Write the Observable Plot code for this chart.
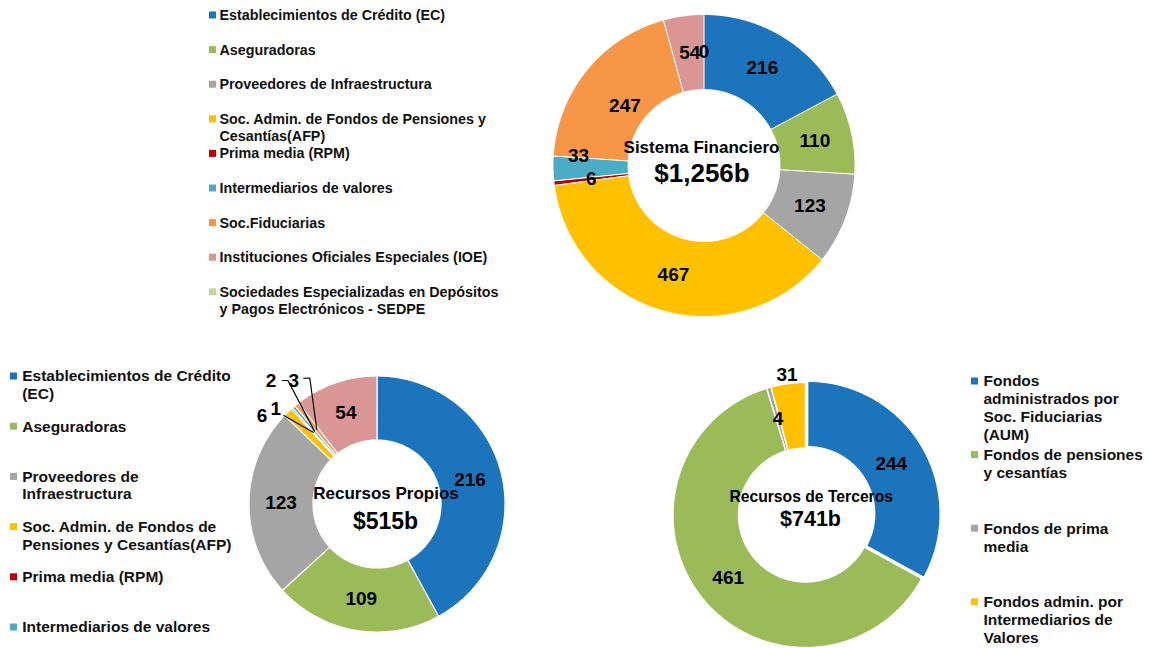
<!DOCTYPE html>
<html>
<head>
<meta charset="utf-8">
<script src="https://cdn.jsdelivr.net/npm/d3@7"></script>
<script src="https://cdn.jsdelivr.net/npm/@observablehq/plot@0.6"></script>
<style>
  html, body { margin: 0; padding: 0; background: #fff; }
  #chart svg { display: block; }
</style>
</head>
<body>
<div id="chart"></div>
<script>
// ---------------- DATA ----------------
// Sistema Financiero
const sfCategories = [
  "Establecimientos de Crédito (EC)",
  "Aseguradoras",
  "Proveedores de Infraestructura",
  "Soc. Admin. de Fondos de Pensiones y Cesantías(AFP)",
  "Prima media (RPM)",
  "Intermediarios de valores",
  "Soc.Fiduciarias",
  "Instituciones Oficiales Especiales (IOE)",
  "Sociedades Especializadas en Depósitos y Pagos Electrónicos - SEDPE"
];
const sfValues = [216, 110, 123, 467, 6, 33, 247, 54, 0];
const sfLegendLines = [
  ["Establecimientos de Crédito (EC)"],
  ["Aseguradoras"],
  ["Proveedores de Infraestructura"],
  ["Soc. Admin. de Fondos de Pensiones y", "Cesantías(AFP)"],
  ["Prima media (RPM)"],
  ["Intermediarios de valores"],
  ["Soc.Fiduciarias"],
  ["Instituciones Oficiales Especiales (IOE)"],
  ["Sociedades Especializadas en Depósitos", "y Pagos Electrónicos - SEDPE"]
];
const sfTitle = "Sistema Financiero";
const sfTotal = "$1,256b";

// Recursos Propios
const rpCategories = [
  "Establecimientos de Crédito (EC)",
  "Aseguradoras",
  "Proveedores de Infraestructura",
  "Soc. Admin. de Fondos de Pensiones y Cesantías(AFP)",
  "Prima media (RPM)",
  "Intermediarios de valores",
  "Soc.Fiduciarias",
  "Instituciones Oficiales Especiales (IOE)"
];
const rpValues = [216, 109, 123, 6, 1, 2, 3, 54];
const rpLegendLines = [
  ["Establecimientos de Crédito", "(EC)"],
  ["Aseguradoras"],
  ["Proveedores de", "Infraestructura"],
  ["Soc. Admin. de Fondos de", "Pensiones y Cesantías(AFP)"],
  ["Prima media (RPM)"],
  ["Intermediarios de valores"]
];
const rpTitle = "Recursos Propios";
const rpTotal = "$515b";

// Recursos de Terceros
const rtCategories = [
  "Fondos administrados por Soc. Fiduciarias (AUM)",
  "Fondos de pensiones y cesantías",
  "Fondos de prima media",
  "Fondos admin. por Intermediarios de Valores"
];
const rtValues = [244, 461, 4, 31];
const rtLegendLines = [
  ["Fondos", "administrados por", "Soc. Fiduciarias", "(AUM)"],
  ["Fondos de pensiones", "y cesantías"],
  ["Fondos de prima", "media"],
  ["Fondos admin. por", "Intermediarios de", "Valores"]
];
const rtTitle = "Recursos de Terceros";
const rtTotal = "$741b";

// ---------------- STYLE / LAYOUT ----------------
const sfColors = ["#1C75BC", "#9BBB59", "#A5A5A5", "#FFC000", "#C00000", "#4BACC6", "#F79646", "#D99694", "#C3D69B"];
const rpColors = ["#1C75BC", "#9BBB59", "#A5A5A5", "#FFC000", "#C00000", "#4BACC6", "#F79646", "#D99694"];
const rtColors = ["#1C75BC", "#9BBB59", "#A5A5A5", "#FFC000"];

const W = 1149, H = 648;
const FONT = "'Liberation Sans', Arial, Helvetica, sans-serif";

const L = {
  sf: {cx: 703.5, cy: 165, r: 151, ir: 76, sw: 1,
       title: {dx: -2.5, dy: -18, size: 17}, total: {dx: -2, dy: 8, size: 26},
       labelSize: 19,
       labelNudge: {5: [-12, -12], 6: [9, 12], 7: [1, 0]},
       legend: {mx: 209, ms: 7, tx: 219, y0: 15, step: 34.6, lh: 16.8, size: 14.3}},
  rp: {cx: 376.5, cy: 503.5, r: 128, ir: 64, sw: 1.2,
       title: {dx: 9, dy: -10.5, size: 17}, total: {dx: 8.5, dy: 17.5, size: 23},
       labelSize: 19,
       outside: { // polar positions (deg clockwise from top, radius px) for small slices
         3: {label: [307.6, 145]},
         4: {label: [313.2, 139], leader: [[313.5, 128.5]]},
         5: {label: [319.2, 162], leader: [[322.5, 155.7], [324.2, 152.3]]},
         6: {label: [326, 149], leader: [[329.8, 145.5], [331.9, 142.6]]}
       },
       leaderR: 96,
       legend: {mx: 10, ms: 7, tx: 21.7, y0: 376, step: 50.2, lh: 17.6, size: 15.5}},
  rt: {cx: 805, cy: 514.5, r: 132.5, ir: 67, sw: 1.4,
       explode: {0: 2.5},
       title: {dx: 5.7, dy: -18.5, size: 15.7}, total: {dx: 5, dy: 4.5, size: 21.5},
       labelSize: 19,
       outsideR: {3: 141},
       legend: {mx: 971, ms: 7, tx: 983, y0: 381, step: 73.6, lh: 17.9, size: 15.5}}
};

// ---------------- BUILD ----------------
const pt = (cfg, angRad, r) => [cfg.cx + r * Math.sin(angRad), cfg.cy - r * Math.cos(angRad)];
const rad = deg => deg * Math.PI / 180;

function donut(key, values, colors, cfg) {
  const arcs = d3.pie().sort(null).value(d => d)(values);
  const polys = [];
  arcs.forEach((a, i) => {
    const span = a.endAngle - a.startAngle;
    if (span <= 0) return;
    const mid = (a.startAngle + a.endAngle) / 2;
    const ex = cfg.explode && cfg.explode[i] ? cfg.explode[i] : 0;
    const ox = ex * Math.sin(mid), oy = -ex * Math.cos(mid);
    const n = Math.max(2, Math.ceil(span / (Math.PI / 360)));
    for (let k = 0; k <= n; k++) {
      const t = a.startAngle + span * k / n;
      const [x, y] = pt(cfg, t, cfg.r);
      polys.push({id: key + i, color: colors[i], x: x + ox, y: y + oy});
    }
    for (let k = n; k >= 0; k--) {
      const t = a.startAngle + span * k / n;
      const [x, y] = pt(cfg, t, cfg.ir);
      polys.push({id: key + i, color: colors[i], x: x + ox, y: y + oy});
    }
  });
  const labels = [];
  const leaders = [];
  arcs.forEach((a, i) => {
    const mid = (a.startAngle + a.endAngle) / 2;
    let x, y;
    if (cfg.outside && cfg.outside[i]) {
      const o = cfg.outside[i];
      [x, y] = pt(cfg, rad(o.label[0]), o.label[1]);
      if (o.leader) {
        o.leader.forEach(p => {
          const [lx, ly] = pt(cfg, rad(p[0]), p[1]);
          leaders.push({id: key + i, x: lx, y: ly});
        });
        const [ex, ey] = pt(cfg, mid, cfg.leaderR);
        leaders.push({id: key + i, x: ex, y: ey});
      }
    } else if (cfg.outsideR && cfg.outsideR[i]) {
      [x, y] = pt(cfg, mid, cfg.outsideR[i]);
    } else {
      [x, y] = pt(cfg, mid, (cfg.r + cfg.ir) / 2);
      if (cfg.labelNudge && cfg.labelNudge[i]) {
        x += cfg.labelNudge[i][0];
        y += cfg.labelNudge[i][1];
      }
    }
    labels.push({x, y, text: String(values[i])});
  });
  const centers = [
    {x: cfg.cx + cfg.title.dx, y: cfg.cy + cfg.title.dy, text: null, size: cfg.title.size},
    {x: cfg.cx + cfg.total.dx, y: cfg.cy + cfg.total.dy, text: null, size: cfg.total.size}
  ];
  return {polys, labels, leaders, centers};
}

function legend(lines, colors, cfg) {
  const boxes = [], texts = [];
  const lg = cfg.legend;
  lines.forEach((ls, i) => {
    const y0 = lg.y0 + i * lg.step;
    boxes.push({x1: lg.mx, x2: lg.mx + lg.ms, y1: y0 - lg.ms / 2, y2: y0 + lg.ms / 2, color: colors[i]});
    ls.forEach((t, j) => texts.push({x: lg.tx, y: y0 + j * lg.lh, text: t}));
  });
  return {boxes, texts};
}

const sf = donut("sf", sfValues, sfColors, L.sf);
const rp = donut("rp", rpValues, rpColors, L.rp);
const rt = donut("rt", rtValues, rtColors, L.rt);
sf.centers[0].text = sfTitle; sf.centers[1].text = sfTotal;
rp.centers[0].text = rpTitle; rp.centers[1].text = rpTotal;
rt.centers[0].text = rtTitle; rt.centers[1].text = rtTotal;

const sfLeg = legend(sfLegendLines, sfColors, L.sf);
const rpLeg = legend(rpLegendLines, rpColors, L.rp);
const rtLeg = legend(rtLegendLines, rtColors, L.rt);

function donutMarks(d, cfg) {
  return [
    Plot.line(d.polys, {x: "x", y: "y", z: "id", fill: "color", stroke: "white", strokeWidth: cfg.sw, curve: "linear-closed", strokeLinejoin: "miter"}),
    Plot.line(d.leaders, {x: "x", y: "y", z: "id", stroke: "black", strokeWidth: 1.2, strokeLinejoin: "miter"}),
    Plot.text(d.labels, {x: "x", y: "y", text: "text", fontSize: cfg.labelSize, fontWeight: "bold", fill: "black", fontFamily: FONT}),
    Plot.text(d.centers, {x: "x", y: "y", text: "text", fontSize: "size", fontWeight: "bold", fill: "black", fontFamily: FONT})
  ];
}
function legendMarks(lg, cfg) {
  return [
    Plot.rect(lg.boxes, {x1: "x1", x2: "x2", y1: "y1", y2: "y2", fill: "color"}),
    Plot.text(lg.texts, {x: "x", y: "y", text: "text", textAnchor: "start", fontSize: cfg.legend.size, fontWeight: "bold", fill: "#111", fontFamily: FONT})
  ];
}

const chart = Plot.plot({
  width: W,
  height: H,
  margin: 0,
  style: {fontFamily: FONT, background: "white"},
  x: {type: "linear", domain: [0, W], range: [0, W], axis: null},
  y: {type: "linear", domain: [0, H], range: [0, H], axis: null},
  color: {type: "identity"},
  marks: [
    ...donutMarks(sf, L.sf),
    ...donutMarks(rp, L.rp),
    ...donutMarks(rt, L.rt),
    ...legendMarks(sfLeg, L.sf),
    ...legendMarks(rpLeg, L.rp),
    ...legendMarks(rtLeg, L.rt)
  ]
});
document.getElementById("chart").appendChild(chart);
</script>
</body>
</html>
